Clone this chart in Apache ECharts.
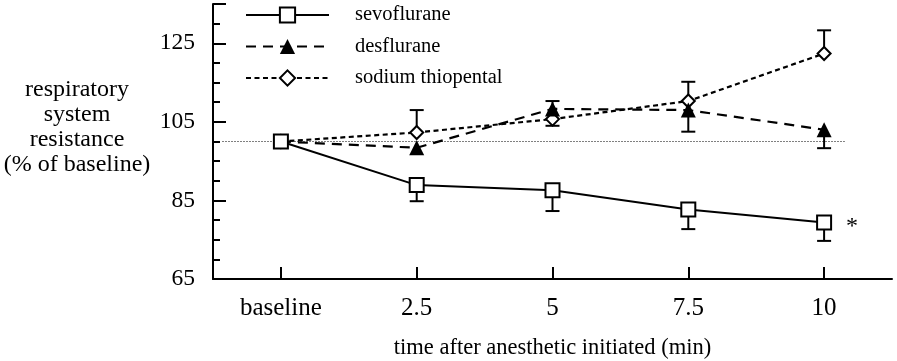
<!DOCTYPE html>
<html>
<head>
<meta charset="utf-8">
<script src="https://cdn.jsdelivr.net/npm/echarts@6/dist/echarts.min.js"></script>
<style>html,body{margin:0;padding:0;background:#fff;}#c{width:897px;height:361px;}</style>
</head>
<body>
<div id="c"></div>
<script>
const categories = ['baseline', '2.5', '5', '7.5', '10'];
const seriesNames = ['sevoflurane', 'desflurane', 'sodium thiopental'];
const sevoflurane = [100, 88.9, 87.6, 82.7, 79.4];
const desflurane = [100, 98.4, 108.3, 108.0, 103.0];
const thiopental = [100, 102.3, 105.7, 110.3, 122.4];
// error bar end values (one-sided), null = not shown
const sevoErr = [null, 84.8, 82.3, 77.7, 74.7];
const desErr = [null, null, 110.3, 102.5, 98.3];
const thioErr = [null, 108.0, 104.0, 115.2, 128.3];
const yTicks = [65, 85, 105, 125];
const yRange = [65, 135];
const refValue = 100;
const refSpan = [-0.43, 4.15];
const yTitle = 'respiratory\nsystem\nresistance\n(% of baseline)';
const xTitle = 'time after anesthetic initiated (min)';
const sigMark = '*';

const FONT = 'Liberation Serif';

function errData(vals, errs) {
  const out = [];
  for (let i = 0; i < vals.length; i++) {
    if (errs[i] != null) out.push([i, vals[i], errs[i]]);
  }
  return out;
}
function renderErr(params, api) {
  const x = api.value(0), v = api.value(1), e = api.value(2);
  const p0 = api.coord([x, v]);
  const p1 = api.coord([x, e]);
  const half = 7;
  return {
    type: 'group',
    children: [
      {type: 'line', shape: {x1: p0[0], y1: p0[1], x2: p1[0], y2: p1[1]}, style: {stroke: '#000', lineWidth: 2}},
      {type: 'line', shape: {x1: p1[0] - half, y1: p1[1], x2: p1[0] + half, y2: p1[1]}, style: {stroke: '#000', lineWidth: 2}}
    ]
  };
}
function errSeries(name, vals, errs) {
  return {
    type: 'custom', name: name, xAxisIndex: 0, yAxisIndex: 0,
    data: errData(vals, errs), renderItem: renderErr,
    encode: {x: 0, y: [1, 2]}, z: 1, silent: true
  };
}

const sevoData = sevoflurane.map((v, i) => i === sevoflurane.length - 1 ? {
  value: v,
  label: {show: true, formatter: sigMark, position: 'right', distance: 14, offset: [0, 4],
          fontFamily: FONT, fontSize: 24, color: '#000'}
} : v);

const chart = echarts.init(document.getElementById('c'), null, {renderer: 'canvas'});
chart.setOption({
  animation: false,
  backgroundColor: '#fff',
  textStyle: {fontFamily: FONT, color: '#000'},
  grid: {left: 213, right: 5, top: 4, bottom: 82, containLabel: false, outerBoundsMode: 'none'},
  legend: {
    data: seriesNames,
    orient: 'vertical',
    left: 245, top: 4.5, padding: 0,
    itemWidth: 83, itemHeight: 19, itemGap: 10.5,
    textStyle: {fontFamily: FONT, fontSize: 20.5, color: '#000', padding: [0, 0, 0, 21]},
    selectedMode: false
  },
  xAxis: [{
    type: 'category', data: categories, boundaryGap: true,
    axisLine: {onZero: false, lineStyle: {color: '#000', width: 2}},
    axisTick: {show: true, alignWithLabel: true, inside: true, length: 12, lineStyle: {color: '#000', width: 2}},
    axisLabel: {fontFamily: FONT, fontSize: 25, color: '#000', margin: 16.5},
    splitLine: {show: false},
    name: xTitle, nameLocation: 'middle', nameGap: 58,
    nameTextStyle: {fontFamily: FONT, fontSize: 22.5, color: '#000'}
  }, {
    type: 'value', min: -0.5, max: 4.5, show: false
  }],
  yAxis: {
    type: 'value', min: yRange[0], max: yRange[1], interval: yTicks[1] - yTicks[0],
    axisLine: {show: true, onZero: false, lineStyle: {color: '#000', width: 2}},
    axisTick: {show: true, inside: true, length: 13, lineStyle: {color: '#000', width: 2}},
    minorTick: {show: true, splitNumber: 4, length: 7, lineStyle: {color: '#000', width: 2}},
    axisLabel: {fontFamily: FONT, fontSize: 23.5, color: '#000', margin: 18, showMaxLabel: false,
      formatter: v => (yTicks.indexOf(v) >= 0 ? String(v) : '')},
    splitLine: {show: false}
  },
  graphic: [{
    type: 'text',
    style: {text: yTitle, x: 77, y: 127, align: 'center', verticalAlign: 'middle',
            fontFamily: FONT, fontSize: 24, lineHeight: 25, fill: '#000'}
  }],
  series: [
    {
      type: 'line', name: 'ref', xAxisIndex: 1, yAxisIndex: 0,
      data: [[refSpan[0], refValue], [refSpan[1], refValue]],
      symbol: 'none', lineStyle: {color: '#000', width: 1, type: [1, 2]}, z: 0, silent: true
    },
    errSeries('e3', thiopental, thioErr),
    errSeries('e2', desflurane, desErr),
    errSeries('e1', sevoflurane, sevoErr),
    {
      type: 'line', name: seriesNames[2], data: thiopental,
      symbol: 'emptyDiamond', symbolSize: 13,
      itemStyle: {color: '#000', borderWidth: 2.5},
      lineStyle: {color: '#000', width: 2.2, type: [5, 3.5]},
      z: 3, emphasis: {disabled: true}
    },
    {
      type: 'line', name: seriesNames[1], data: desflurane,
      symbol: 'triangle', symbolSize: 15,
      itemStyle: {color: '#000'},
      lineStyle: {color: '#000', width: 2.2, type: [10, 7]},
      z: 4, emphasis: {disabled: true}
    },
    {
      type: 'line', name: seriesNames[0], data: sevoData,
      symbol: 'emptyRect', symbolSize: 14,
      itemStyle: {color: '#000', borderWidth: 2},
      lineStyle: {color: '#000', width: 2},
      z: 5, emphasis: {disabled: true}
    }
  ]
});
</script>
</body>
</html>
